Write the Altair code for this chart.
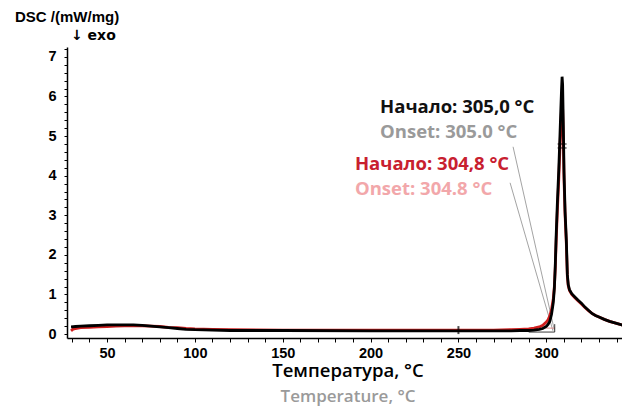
import altair as alt
import pandas as pd

# ---- data ----
t_black = [29.5, 32, 35, 40, 45, 50, 55, 60, 65, 70, 75, 80, 85, 90, 95, 100, 110, 120, 150,
           200, 250, 270, 280, 285, 290, 293, 296, 298, 300, 301, 302, 303, 304, 304.6, 305.1,
           305.6, 306.3, 307.1, 307.7, 308.3, 308.7, 309.0, 309.3, 309.7, 310.1, 310.7, 311.4,
           312.0, 312.5, 313.2, 314.5, 316, 318, 320, 322, 324, 326, 328, 330, 333, 336, 340,
           343, 346]
d_black = [0.18, 0.19, 0.20, 0.21, 0.22, 0.23, 0.23, 0.23, 0.23, 0.22, 0.20, 0.18, 0.16, 0.14,
           0.12, 0.11, 0.10, 0.09, 0.09, 0.08, 0.08, 0.08, 0.08, 0.09, 0.09, 0.10, 0.12, 0.14,
           0.19, 0.24, 0.32, 0.50, 0.80, 1.15, 1.70, 2.45, 3.30, 4.14, 4.90, 5.70, 6.20, 6.50,
           6.30, 5.30, 4.10, 3.10, 2.40, 1.50, 1.25, 1.12, 1.02, 0.95, 0.86, 0.78, 0.68, 0.60,
           0.52, 0.47, 0.43, 0.37, 0.32, 0.27, 0.23, 0.20]

t_red = [29.5, 30.5, 32, 35, 40, 45, 50, 55, 60, 65, 70, 75, 80, 85, 90, 95, 100, 110, 120, 150,
         200, 250, 270, 280, 285, 290, 293, 296, 298, 300, 301, 302, 303, 304, 304.6, 305.1,
         305.6, 306.3, 307.1, 307.7, 308.3, 308.7, 309.0, 309.3, 309.7, 310.1, 310.7, 311.4,
         312.0, 312.5, 313.2, 314.5, 316, 318, 320, 322, 324, 326, 328, 330, 333, 336, 340,
         343, 346]
d_red = [0.08, 0.12, 0.14, 0.16, 0.17, 0.18, 0.19, 0.20, 0.21, 0.21, 0.21, 0.20, 0.19, 0.17,
         0.16, 0.14, 0.13, 0.12, 0.11, 0.10, 0.10, 0.10, 0.10, 0.11, 0.12, 0.13, 0.15, 0.18,
         0.22, 0.30, 0.36, 0.46, 0.62, 0.90, 1.20, 1.65, 2.30, 3.10, 3.90, 4.60, 5.30, 5.70,
         5.85, 5.70, 4.90, 3.90, 3.00, 2.30, 1.45, 1.22, 1.10, 1.00, 0.93, 0.84, 0.76, 0.67,
         0.59, 0.52, 0.47, 0.43, 0.37, 0.32, 0.27, 0.23, 0.21]

# onset construction lines
tangent_id = ["a", "a", "b", "b"]
tangent_t = [281.1, 304.6, 279.4, 303.8]
tangent_d = [4.73, 0.10, 3.82, 0.08]

base_black_t = [290, 304.8, 304.8]
base_black_d = [0.05, 0.05, 0.25]
base_pink_t = [292, 305.0]
base_pink_d = [0.15, 0.15]

# annotations
ann_text = ["Начало: 305,0 °C", "Onset: 305.0 °C", "Начало: 304,8 °C", "Onset: 304.8 °C"]
ann_t = [205.4, 205.4, 191.1, 191.1]
ann_d = [5.585, 4.953, 4.145, 3.513]
ann_color = ["#111111", "#9a9a9a", "#c8202f", "#f2a7aa"]

# small break markers
mark_h_t = [309.0, 309.0]
mark_h_d = [4.70, 4.80]
mark_v_t = [250.0]
mark_v_d = [0.10]

x_ticks = [30, 40, 50, 60, 70, 80, 90, 100, 110, 120, 130, 140, 150, 160, 170, 180, 190, 200,
           210, 220, 230, 240, 250, 260, 270, 280, 290, 300, 310, 320, 330, 340]
y_ticks = [0.0, 0.2, 0.4, 0.6, 0.8, 1.0, 1.2, 1.4, 1.6, 1.8, 2.0, 2.2, 2.4, 2.6, 2.8, 3.0, 3.2,
           3.4, 3.6, 3.8, 4.0, 4.2, 4.4, 4.6, 4.8, 5.0, 5.2, 5.4, 5.6, 5.8, 6.0, 6.2, 6.4, 6.6,
           6.8, 7.0, 7.2]

x_title = "Температура, °C"
x_subtitle = "Temperature, °C"
y_title = "DSC /(mW/mg)"
y_sub = "↓ exo"

W, H = 555, 291
xs = alt.Scale(domain=[27.2, 343.1], nice=False, zero=False)
ys = alt.Scale(domain=[-0.1, 7.25], nice=False, zero=False)

x_axis = alt.Axis(values=x_ticks, tickCount=len(x_ticks) + 5,
                  labelExpr="datum.value % 50 === 0 ? datum.label : ''",
                  title=None, grid=False, tickSize=4, labelPadding=4, domainColor="black",
                  tickColor="black", domainWidth=1.5, labelFont="Liberation Sans",
                  labelFontWeight="bold", labelFontSize=14.5, labelColor="black",
                  labelOverlap=False, labelBound=False, labelFlush=False)
y_axis = alt.Axis(values=y_ticks, tickCount=len(y_ticks) + 5,
                  labelExpr="abs(datum.value - round(datum.value)) < 0.001 ? format(datum.value, 'd') : ''",
                  title=None, grid=False, tickSize=3, labelPadding=8, domainColor="black",
                  tickColor="black", domainWidth=1.5, labelFont="Liberation Sans",
                  labelFontWeight="bold", labelFontSize=14.5, labelColor="black",
                  labelOverlap=False, labelBound=False, labelFlush=False)

X = alt.X("t:Q", scale=xs, axis=x_axis)
Y = alt.Y("d:Q", scale=ys, axis=y_axis)

df_black = pd.DataFrame({"t": t_black, "d": d_black})
df_red = pd.DataFrame({"t": t_red, "d": d_red})

red_line = alt.Chart(df_red).mark_line(color="#d11f1f", strokeWidth=2.8, clip=True).encode(
    x=X, y=Y, order="t:Q"
)
black_line = alt.Chart(df_black).mark_line(color="#000000", strokeWidth=2.8, clip=True).encode(
    x=X, y=Y, order="t:Q"
)

df_tan = pd.DataFrame({"id": tangent_id, "t": tangent_t, "d": tangent_d})
tangents = alt.Chart(df_tan).mark_line(color="#8c8c8c", strokeWidth=0.8).encode(
    x=X, y=Y, detail="id:N"
)
df_bb = pd.DataFrame({"t": base_black_t, "d": base_black_d, "o": [0, 1, 2]})
base_black = alt.Chart(df_bb).mark_line(color="#222222", strokeWidth=0.9).encode(
    x=X, y=Y, order="o:Q"
)
df_bp = pd.DataFrame({"t": base_pink_t, "d": base_pink_d})
base_pink = alt.Chart(df_bp).mark_line(color="#d98a8a", strokeWidth=1.0).encode(x=X, y=Y)

df_mh = pd.DataFrame({"t": mark_h_t, "d": mark_h_d})
marks_h = alt.Chart(df_mh).mark_tick(orient="horizontal", size=9, thickness=1.3, color="black").encode(
    x=X, y=Y
)
df_mv = pd.DataFrame({"t": mark_v_t, "d": mark_v_d})
marks_v = alt.Chart(df_mv).mark_tick(orient="vertical", size=8, thickness=2, color="black").encode(
    x=X, y=Y
)

df_ann = pd.DataFrame({"t": ann_t, "d": ann_d, "txt": ann_text, "c": ann_color})
annotations = alt.Chart(df_ann).mark_text(
    align="left", baseline="alphabetic", font="Open Sans", fontSize=18.5, fontWeight="bold"
).encode(
    x=X, y=Y, text="txt:N", color=alt.Color("c:N", scale=None)
)

def label(txt, x, y, size, weight, color, font, align="left"):
    return alt.Chart(pd.DataFrame({"s": [txt]})).mark_text(
        align=align, baseline="alphabetic", font=font, fontSize=size, fontWeight=weight,
        color=color
    ).encode(text="s:N", x=alt.value(x), y=alt.value(y))

t1 = label(x_title, 281, 330, 18.5, 600, "#000000", "Open Sans", "center")
t2 = label(x_subtitle, 281, 355, 17, 600, "#9a9a9a", "Open Sans", "center")
t3 = label(y_title, -52, -25, 15, "bold", "#000000", "Liberation Sans")
t4 = label(y_sub, 4, -7, 14, "bold", "#000000", "DejaVu Sans")

chart = alt.layer(
    tangents, base_pink, base_black, red_line, black_line, marks_h, marks_v, annotations,
    t1, t2, t3, t4
).properties(
    width=W, height=H,
    autosize=alt.AutoSizeParams(type="none"),
    padding={"left": 59, "top": 39, "right": 0, "bottom": 68},
    background="white",
).configure_view(stroke=None)

chart.save("out.html", embed_options={"renderer": "svg", "actions": False})
